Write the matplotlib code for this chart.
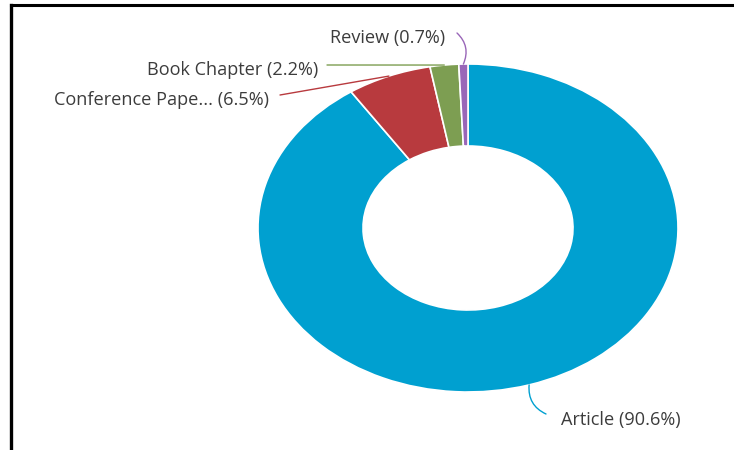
import matplotlib
matplotlib.use("Agg")
import matplotlib.pyplot as plt
from matplotlib.lines import Line2D
import numpy as np

# document types share
doc_types = ["Article", "Conference Pape...", "Book Chapter", "Review"]
shares = [90.6, 6.5, 2.2, 0.7]
colors = ["#00a0d0", "#b83a3e", "#7d9e52", "#9966b8"]

W, H = 734, 450
fig = plt.figure(figsize=(W / 100, H / 100), dpi=100)
fig.patch.set_facecolor("white")

# frame lines (top and left only)
fig.add_artist(Line2D([11 / W, 1], [1 - 5 / H, 1 - 5 / H], color="black", lw=2.2))
fig.add_artist(Line2D([11 / W, 11 / W], [0, 1 - 5 / H], color="black", lw=2.4))

# the donut is stretched wider than tall, so the axes aspect stays free
ax = fig.add_axes([258 / W, 58 / H, 420 / W, 328 / H])
wedges, _ = ax.pie(shares, colors=colors, startangle=90, counterclock=False,
                   radius=1, wedgeprops=dict(width=0.5, edgecolor="white", linewidth=1.2))
ax.set_xlim(-1, 1)
ax.set_ylim(-1, 1)
ax.set_aspect("auto")
ax.axis("off")

font = dict(family=["Open Sans", "DejaVu Sans"], fontsize=13.1, color="#3c3c3c")

# (connector end, text position, ha, connection style) in pixels from top-left
label_layout = [
    ((546, 414), (561, 420), "left", "arc3,rad=-0.35"),
    ((280, 95), (269, 100), "right", "arc3,rad=0"),
    ((327, 65), (318, 70), "right", "arc3,rad=0"),
    ((457, 33), (445, 38), "right", "arc3,rad=-0.35"),
]

for w, name, pct, col, (end, txt, ha, cs) in zip(wedges, doc_types, shares, colors, label_layout):
    # connector starts at the middle of the wedge's outer rim
    mid = np.deg2rad((w.theta1 + w.theta2) / 2)
    anchor = (np.cos(mid), np.sin(mid))
    ax.annotate("", xy=anchor, xycoords="data",
                xytext=(end[0], H - end[1]), textcoords="figure pixels",
                arrowprops=dict(arrowstyle="-", color=col, lw=1, shrinkA=0, shrinkB=0,
                                connectionstyle=cs),
                annotation_clip=False)
    fig.text(txt[0] / W, 1 - txt[1] / H, "%s (%.1f%%)" % (name, pct),
             ha=ha, va="center", **font)

fig.savefig("out.png", dpi=100, facecolor="white")
